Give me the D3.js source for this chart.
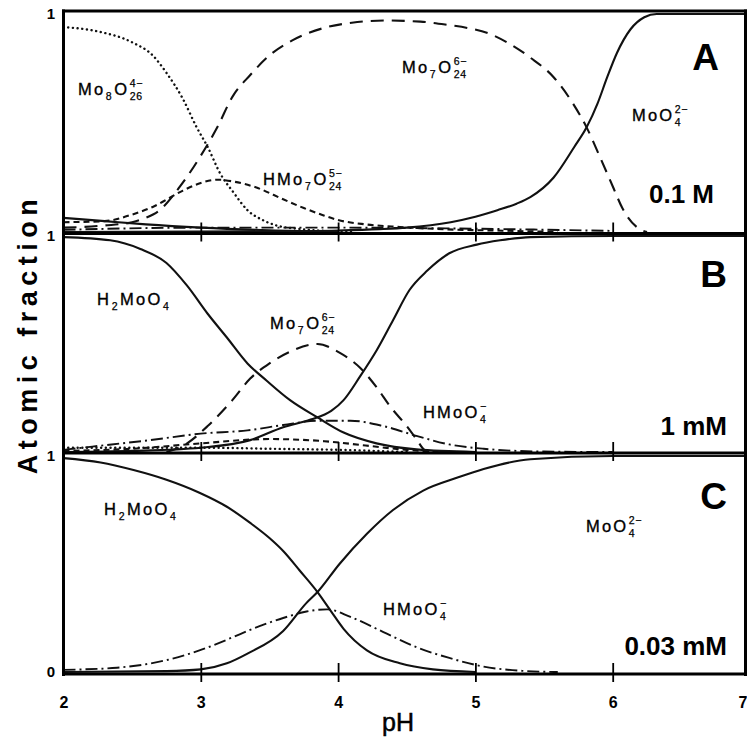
<!DOCTYPE html>
<html><head><meta charset="utf-8">
<script src="https://cdn.jsdelivr.net/npm/d3@7"></script>
<style>body{margin:0;background:#fff}svg{display:block}</style>
</head><body><svg id="chart" width="747" height="738"></svg>
<script>
// ---- data: molybdate speciation, atomic fraction vs pH ----
const phTicks = [2, 3, 4, 5, 6, 7];
const panelLetters = ["A", "B", "C"];
const concentrations = ["0.1 M", "1 mM", "0.03 mM"];

// Panel A, 0.1 M  — [pH, atomic fraction]
const a_Mo8O26 = [[2.0,0.94],[2.25,0.92],[2.5,0.87],[2.65,0.81],[2.75,0.73],[2.87,0.61],[2.97,0.48],[3.05,0.39],[3.14,0.27],[3.24,0.18],[3.34,0.10],[3.45,0.055],[3.55,0.03],[3.7,0.015],[3.9,0.005],[4.1,0.0]];
const a_Mo7O24 = [[2.0,0.02],[2.3,0.03],[2.5,0.045],[2.6,0.065],[2.7,0.10],[2.85,0.21],[2.99,0.34],[3.12,0.48],[3.23,0.62],[3.36,0.72],[3.5,0.81],[3.67,0.88],[3.92,0.94],[4.1,0.96],[4.35,0.97],[4.6,0.965],[4.8,0.95],[4.95,0.935],[5.1,0.91],[5.23,0.87],[5.4,0.80],[5.57,0.71],[5.71,0.59],[5.81,0.48],[5.91,0.34],[6.0,0.21],[6.07,0.11],[6.18,0.02],[6.25,0.0]];
const a_HMo7O24 = [[2.0,0.045],[2.3,0.05],[2.5,0.08],[2.65,0.115],[2.87,0.19],[3.0,0.225],[3.12,0.24],[3.25,0.23],[3.4,0.205],[3.6,0.15],[3.75,0.11],[3.9,0.075],[4.0,0.055],[4.2,0.035],[4.45,0.023],[4.8,0.012],[5.2,0.006],[5.6,0.0]];
const a_MoO4 = [[2.0,0.0],[3.5,0.003],[4.0,0.007],[4.3,0.013],[4.5,0.02],[4.82,0.045],[5.0,0.07],[5.16,0.10],[5.3,0.13],[5.4,0.16],[5.57,0.25],[5.72,0.39],[5.81,0.48],[5.89,0.59],[5.96,0.71],[6.03,0.82],[6.13,0.93],[6.23,0.985],[6.32,1.0],[7.0,1.0]];
const a_H2MoO4 = [[2.0,0.065],[2.3,0.05],[2.6,0.035],[3.0,0.02],[3.5,0.008],[4.0,0.002]];
const a_HMoO4 = [[2.0,0.01],[3.0,0.02],[4.0,0.02],[5.0,0.015],[6.0,0.005]];

// Panel B, 1 mM
const b_H2MoO4 = [[2.0,0.995],[2.34,0.98],[2.56,0.94],[2.75,0.875],[2.9,0.77],[3.05,0.64],[3.19,0.53],[3.34,0.41],[3.48,0.33],[3.65,0.24],[3.85,0.16],[4.04,0.09],[4.28,0.04],[4.57,0.012],[5.0,0.0]];
const b_Mo7O24 = [[2.75,0.0],[2.9,0.04],[3.05,0.12],[3.23,0.24],[3.36,0.34],[3.5,0.41],[3.67,0.47],[3.85,0.50],[4.01,0.46],[4.16,0.39],[4.28,0.30],[4.38,0.21],[4.5,0.12],[4.57,0.06],[4.63,0.01],[4.7,0.0]];
const b_HMo7O24 = [[2.0,0.005],[2.5,0.015],[3.0,0.04],[3.5,0.06],[3.9,0.05],[4.2,0.03],[4.5,0.01],[4.8,0.0]];
const b_Mo8O26 = [[2.0,0.02],[3.0,0.02],[3.5,0.015],[4.0,0.01],[4.5,0.0]];
const b_MoO4 = [[2.0,0.0],[2.5,0.005],[3.0,0.02],[3.36,0.055],[3.6,0.115],[3.8,0.15],[3.95,0.19],[4.04,0.24],[4.16,0.35],[4.28,0.47],[4.4,0.61],[4.52,0.75],[4.65,0.84],[4.81,0.92],[5.01,0.96],[5.18,0.98],[5.4,0.995],[6.0,1.0],[7.0,1.0]];
const b_HMoO4 = [[2.0,0.01],[2.21,0.025],[2.63,0.055],[3.0,0.085],[3.34,0.10],[3.6,0.125],[3.85,0.145],[4.09,0.145],[4.33,0.12],[4.57,0.075],[4.81,0.035],[5.06,0.015],[5.5,0.002],[6.0,0.0]];

// Panel C, 0.03 mM
const c_H2MoO4 = [[2.0,0.99],[2.27,0.97],[2.51,0.935],[2.75,0.89],[2.99,0.83],[3.19,0.765],[3.36,0.69],[3.5,0.62],[3.6,0.56],[3.72,0.47],[3.85,0.37],[3.95,0.28],[4.04,0.20],[4.21,0.10],[4.45,0.04],[4.69,0.012],[5.0,0.0]];
const c_MoO4 = [[2.0,0.0],[2.75,0.004],[3.0,0.012],[3.19,0.04],[3.34,0.085],[3.6,0.19],[3.77,0.32],[3.85,0.37],[4.01,0.50],[4.21,0.64],[4.4,0.75],[4.62,0.84],[4.87,0.90],[5.06,0.94],[5.4,0.985],[6.0,1.0],[7.0,1.0]];
const c_HMoO4 = [[2.0,0.01],[2.39,0.02],[2.75,0.055],[2.99,0.10],[3.23,0.16],[3.36,0.195],[3.6,0.25],[3.77,0.28],[3.92,0.29],[4.09,0.255],[4.33,0.185],[4.57,0.115],[4.81,0.065],[5.06,0.025],[5.35,0.005],[5.6,0.0]];

// species labels: plain strings, or [subscript, superscript] stacked pairs
const lbl_Mo8O26 = ["Mo", ["8", null], "O", ["26", "4\u2212"]];
const lbl_Mo7O24 = ["Mo", ["7", null], "O", ["24", "6\u2212"]];
const lbl_HMo7O24 = ["HMo", ["7", null], "O", ["24", "5\u2212"]];
const lbl_MoO4 = ["MoO", ["4", "2\u2212"]];
const lbl_H2MoO4 = ["H", ["2", null], "MoO", ["4", null]];
const lbl_HMoO4 = ["HMoO", ["4", "\u2212"]];

// ---- layout ----
const svg = d3.select("#chart");
const FONT = "'Liberation Sans', Arial, Helvetica, sans-serif";
const x = d3.scaleLinear().domain([2, 7]).range([63.5, 750]);
const panelRanges = [[232, 14], [452, 236], [672, 456]];
const yScales = panelRanges.map(r => d3.scaleLinear().domain([0, 1]).range(r));

const styles = {
  solid:  { dash: null,          width: 2.1 },
  dotted: { dash: "0.1,4.6",     width: 2.4, cap: "round" },
  long:   { dash: "13,8",        width: 2.1 },
  short:  { dash: "6,4",         width: 2.1 },
  dashdot:{ dash: "12,4,2,4",    width: 1.9 }
};

const panelSeries = [
  [[a_H2MoO4,"solid"],[a_HMoO4,"dashdot"],[a_Mo8O26,"dotted"],[a_Mo7O24,"long"],[a_HMo7O24,"short"],[a_MoO4,"solid"]],
  [[b_Mo8O26,"dotted"],[b_HMo7O24,"short"],[b_H2MoO4,"solid"],[b_Mo7O24,"long"],[b_MoO4,"solid"],[b_HMoO4,"dashdot"]],
  [[c_H2MoO4,"solid"],[c_MoO4,"solid"],[c_HMoO4,"dashdot"]]
];

const panelLabels = [
  [[lbl_Mo8O26, 78, 95], [lbl_Mo7O24, 402, 73], [lbl_HMo7O24, 263, 185], [lbl_MoO4, 632, 121]],
  [[lbl_H2MoO4, 97, 305], [lbl_Mo7O24, 270, 329], [lbl_HMoO4, 423, 418]],
  [[lbl_H2MoO4, 104, 515], [lbl_MoO4, 586, 532], [lbl_HMoO4, 383, 615]]
];

// curves
panelSeries.forEach((list, i) => {
  const y = yScales[i];
  const line = d3.line().x(d => x(d[0])).y(d => y(d[1])).curve(d3.curveMonotoneX);
  const g = svg.append("g").attr("class", "panel-" + panelLetters[i]);
  list.forEach(([data, s]) => {
    const st = styles[s];
    g.append("path").datum(data)
      .attr("d", line)
      .attr("fill", "none")
      .attr("stroke", "#111")
      .attr("stroke-width", st.width)
      .attr("stroke-dasharray", st.dash)
      .attr("stroke-linecap", st.cap || "butt")
      .attr("stroke-linejoin", "round");
  });
});

// frame and panel separators
const frame = svg.append("g").attr("stroke", "#000").attr("stroke-width", 3).attr("fill", "none");
frame.append("line").attr("x1", 63.5).attr("x2", 63.5).attr("y1", 9.5).attr("y2", 676);
frame.append("line").attr("x1", 62).attr("x2", 747).attr("y1", 11).attr("y2", 11);
frame.append("line").attr("x1", 745.5).attr("x2", 745.5).attr("y1", 9.5).attr("y2", 676);
[233.5, 453].forEach(yy => {
  frame.append("line").attr("x1", 62).attr("x2", 747).attr("y1", yy).attr("y2", yy);
});
frame.append("line").attr("x1", 62).attr("x2", 747).attr("y1", 674).attr("y2", 674);

// crossing ticks on separators and on the pH axis
function tickAxis(yPos) {
  const ax = d3.axisBottom(x).tickValues(phTicks.slice(1, -1)).tickSize(8).tickFormat("");
  const g = svg.append("g").attr("transform", `translate(0,${yPos})`).call(ax);
  g.select(".domain").remove();
  g.selectAll(".tick line").attr("y1", -11).attr("stroke", "#000").attr("stroke-width", 1.8);
  return g;
}
tickAxis(233.5);
tickAxis(453);
tickAxis(674);
const xAxis = d3.axisBottom(x).tickValues(phTicks).tickSize(0).tickFormat(d3.format("d"));
const xl = svg.append("g").attr("transform", "translate(0,674)").call(xAxis);
xl.select(".domain").remove();
xl.selectAll("text").attr("font-family", FONT).attr("font-size", 16).attr("font-weight", "bold")
  .attr("fill", "#000").attr("dy", "0").attr("y", 34)
  .filter(d => d === 7).attr("text-anchor", "end").attr("dx", -3);

// y labels (1 at each panel top, 0 at the bottom)
yScales.forEach((y, i) => {
  const vals = i === 2 ? [0, 1] : [1];
  const g = svg.append("g").attr("transform", "translate(63,0)")
    .call(d3.axisLeft(y).tickValues(vals).tickSize(0).tickPadding(8).tickFormat(d3.format("d")));
  g.select(".domain").remove();
  g.selectAll("text").attr("font-family", FONT).attr("font-size", 15).attr("font-weight", "bold").attr("fill", "#000");
});

// panel letters and concentrations
const letterPos = [[719, 70], [727, 287], [727, 509]];
const concPos = [[714, 203], [727, 435], [727, 655]];
panelLetters.forEach((L, i) => {
  svg.append("text").attr("x", letterPos[i][0]).attr("y", letterPos[i][1])
    .attr("text-anchor", "end").attr("font-family", FONT).attr("font-weight", "bold")
    .attr("font-size", 37).text(L);
  svg.append("text").attr("x", concPos[i][0]).attr("y", concPos[i][1])
    .attr("text-anchor", "end").attr("font-family", FONT).attr("font-weight", "bold")
    .attr("font-size", 26).text(concentrations[i]);
});

// chemical formula labels with stacked sub/superscripts
function formula(parts, x0, y0) {
  const g = svg.append("g").attr("transform", `translate(${x0},${y0})`)
    .attr("font-family", FONT).attr("fill", "#000");
  let cx = 0;
  parts.forEach(p => {
    if (typeof p === "string") {
      const t = g.append("text").attr("x", cx).attr("y", 0).attr("font-size", 16.5)
        .attr("letter-spacing", 2.2).attr("stroke", "#000").attr("stroke-width", 0.35).text(p);
      cx += t.node().getComputedTextLength() + 0.5;
    } else {
      let w = 0;
      if (p[0]) {
        const s = g.append("text").attr("x", cx).attr("y", 4.5).attr("font-size", 10.5)
          .attr("letter-spacing", 0.6).attr("stroke", "#000").attr("stroke-width", 0.25).text(p[0]);
        w = Math.max(w, s.node().getComputedTextLength());
      }
      if (p[1]) {
        const s = g.append("text").attr("x", cx).attr("y", -8).attr("font-size", 10.5)
          .attr("letter-spacing", 0.6).attr("stroke", "#000").attr("stroke-width", 0.25).text(p[1]);
        w = Math.max(w, s.node().getComputedTextLength());
      }
      cx += w + 2;
    }
  });
}
panelLabels.forEach(list => list.forEach(([parts, lx, ly]) => formula(parts, lx, ly)));

// axis titles
svg.append("text").attr("x", 398).attr("y", 731).attr("text-anchor", "middle")
  .attr("font-family", FONT).attr("font-size", 25).attr("stroke", "#000").attr("stroke-width", 0.5)
  .text("pH");
svg.append("text").attr("transform", "translate(37,334) rotate(-90)").attr("text-anchor", "middle")
  .attr("font-family", FONT).attr("font-size", 27).attr("font-weight", "bold")
  .attr("letter-spacing", 5.5).text("Atomic  fraction");
</script>
</body></html>
